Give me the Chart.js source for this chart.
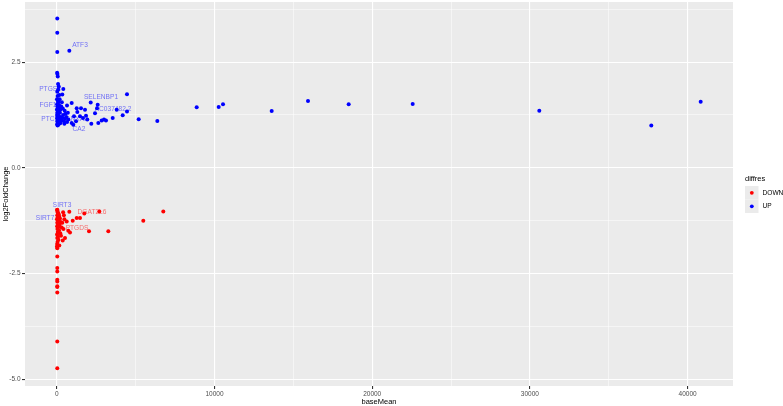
<!DOCTYPE html>
<html>
<head>
<meta charset="utf-8">
<script src="https://cdn.jsdelivr.net/npm/chart.js@4/dist/chart.umd.min.js"></script>
<style>
html,body{margin:0;padding:0;background:#fff;}
#wrap{width:783px;height:406px;}
</style>
</head>
<body>
<div id="wrap"><canvas id="c" width="783" height="406"></canvas></div>
<script>
// ---- data ----
const upX = [30,30,30,793,20,40,60,80,120,412,349,4451,945,647,2150,2594,
  5193,6373,4451,4179,3545,3798,2993,3120,2632,2188,1934,1852,1788,1535,1262,1300,1091,1218,945,729,1046,1471,1661,2550,2422,2847,
  30,50,10,70,100,20,150,40,90,10,60,130,30,200,80,15,110,50,250,25,170,70,300,35,140,60,220,20,100,45,
  350,400,450,500,550,380,280,600,650,700,320,180,240,480,520,160,90,
  8871,10266,10539,13627,15929,18510,22568,30596,37698,40831];
const upY = [3.53,3.19,2.74,2.77,2.25,2.22,2.16,1.98,1.92,1.86,1.73,1.74,1.53,1.47,1.545,1.49,
  1.15,1.105,1.33,1.24,1.18,1.37,1.14,1.12,1.06,1.04,1.14,1.23,1.37,1.41,1.41,1.32,1.22,1.10,1.06,1.14,1.02,1.22,1.18,1.41,1.29,1.12,
  1.80,1.70,1.62,1.58,1.55,1.50,1.48,1.45,1.42,1.38,1.36,1.34,1.30,1.30,1.27,1.25,1.22,1.20,1.20,1.17,1.15,1.13,1.12,1.10,1.08,1.06,1.05,1.03,1.02,1.00,
  1.18,1.25,1.10,1.35,1.28,1.40,1.45,1.20,1.08,1.30,1.55,1.62,1.38,1.04,1.16,1.72,1.85,
  1.43,1.44,1.50,1.34,1.58,1.50,1.51,1.35,1.00,1.56];
const downX = [30,793,2695,6753,5485,3266,2042,1744,1471,1262,1008,628,729,837,520,311,266,374,159,
  20,40,60,80,120,30,150,50,200,10,90,250,30,70,180,20,110,40,140,60,220,15,80,30,100,50,20,10,
  400,450,350,420,480,
  30,30,30,30,30,30,30,30,30,30,30];
const downY = [-0.995,-1.04,-1.035,-1.035,-1.25,-1.50,-1.50,-1.08,-1.19,-1.19,-1.25,-1.27,-1.49,-1.53,-1.66,-1.41,-1.61,-1.72,-1.84,
  -1.00,-1.02,-1.05,-1.08,-1.10,-1.12,-1.15,-1.18,-1.20,-1.22,-1.25,-1.28,-1.30,-1.33,-1.35,-1.38,-1.40,-1.45,-1.48,-1.52,-1.55,-1.58,-1.63,-1.66,-1.70,-1.75,-1.80,-1.86,
  -1.05,-1.12,-1.30,-1.45,-1.22,
  -2.10,-2.37,-2.45,-2.65,-2.69,-2.80,-2.82,-2.95,-4.11,-4.74,-1.90];
const labelNames = ["ATF3","PTGS2","SELENBP1","FGF1","AC037482.2","PTCH1","ANXA2","CA2","SIRT3","SIRT7","DGAT2L6","PTGDS"];
const labelX = [1471,-431,2803,-558,3564,-300,1280,1408,330,-748,2232,1281];
const labelY = [2.91,1.87,1.66,1.47,1.38,1.14,1.16,0.91,-0.88,-1.18,-1.04,-1.42];
const labelGroup = ["UP","UP","UP","UP","UP","UP","UP","UP","UP","UP","DOWN","DOWN"];
const xTicks = [0,5000,10000,15000,20000,25000,30000,35000,40000];
const xMajor = [0,10000,20000,30000,40000];
const yTicks = [-5,-3.75,-2.5,-1.25,0,1.25,2.5,3.75];
const yMajor = [-5,-2.5,0,2.5];
const legendTitle = "diffres";
const legendLabels = ["DOWN","UP"];

const RED = "#FF0000", BLUE = "#0000FF";
const FONT = "'Liberation Sans', Arial, sans-serif";

const bgPlugin = {
  id: 'bg',
  beforeDraw(chart){
    const {ctx, chartArea:a} = chart;
    ctx.save();
    ctx.fillStyle = '#EBEBEB';
    ctx.fillRect(a.left, a.top, a.right-a.left, a.bottom-a.top);
    ctx.restore();
  }
};
const labelPlugin = {
  id: 'lbl',
  beforeDatasetsDraw(chart){
    const {ctx, scales} = chart;
    ctx.save();
    ctx.font = "6.6px " + FONT;
    ctx.textAlign = 'center';
    ctx.textBaseline = 'middle';
    labelNames.forEach((n,i)=>{
      ctx.fillStyle = labelGroup[i]==="UP" ? "rgba(0,0,255,0.55)" : "rgba(255,0,0,0.55)";
      ctx.fillText(n, scales.x.getPixelForValue(labelX[i]), scales.y.getPixelForValue(labelY[i]));
    });
    ctx.restore();
  }
};
const legendPlugin = {
  id: 'lgd',
  afterDraw(chart){
    const ctx = chart.ctx;
    ctx.save();
    ctx.fillStyle = '#000';
    ctx.font = "7.5px " + FONT;
    ctx.textBaseline = 'middle';
    ctx.textAlign = 'left';
    ctx.fillText(legendTitle, 745, 178.5);
    const cols = [RED, BLUE];
    legendLabels.forEach((t,i)=>{
      const y0 = 186 + i*13.5;
      ctx.fillStyle = '#EBEBEB';
      ctx.fillRect(745, y0, 13.5, 13.5);
      ctx.fillStyle = cols[i];
      ctx.beginPath();
      ctx.arc(751.8, y0+6.8, 1.9, 0, Math.PI*2);
      ctx.fill();
      ctx.fillStyle = '#000';
      ctx.font = "6.6px " + FONT;
      ctx.fillText(t, 762.5, y0+6.8);
    });
    ctx.restore();
  }
};

function isMajor(list, v){ return list.some(m=>Math.abs(m-v)<1e-9); }

new Chart(document.getElementById('c'), {
  type: 'scatter',
  data: {
    datasets: [
      { label:'DOWN', data: downX.map((x,i)=>({x, y: downY[i]})), backgroundColor: RED, borderWidth:0, pointRadius:2, pointHoverRadius:2 },
      { label:'UP', data: upX.map((x,i)=>({x, y: upY[i]})), backgroundColor: BLUE, borderWidth:0, pointRadius:2, pointHoverRadius:2 }
    ]
  },
  options: {
    responsive:false, animation:false, devicePixelRatio:1,
    layout:{ padding:{left:0, right:50, top:0, bottom:0} },
    plugins:{ legend:{display:false}, tooltip:{enabled:false} },
    scales:{
      x:{
        type:'linear', min:-2017, max:42880,
        afterBuildTicks(s){ s.ticks = xTicks.map(v=>({value:v})); },
        afterFit(s){ s.height = 20; s.paddingLeft = 0; s.paddingRight = 0; },
        border:{display:false},
        grid:{ color:'#FFFFFF', lineWidth: c => isMajor(xMajor, c.tick.value) ? 1.1 : 0.5,
               tickColor: c => isMajor(xMajor, c.tick.value) ? '#333333' : 'rgba(0,0,0,0)', tickLength:3 },
        ticks:{ autoSkip:false, maxRotation:0, padding:1.5, color:'#4D4D4D', font:{family:FONT, size:6.5},
                callback: v => isMajor(xMajor, v) ? String(v) : '' },
        title:{ display:true, text:'baseMean', color:'#000', font:{family:FONT, size:7.5}, padding:{top:0,bottom:0} }
      },
      y:{
        type:'linear', min:-5.16, max:3.92,
        afterBuildTicks(s){ s.ticks = yTicks.map(v=>({value:v})); },
        afterFit(s){ s.width = 25; s.paddingTop = 0; s.paddingBottom = 0; },
        border:{display:false},
        grid:{ color:'#FFFFFF', lineWidth: c => isMajor(yMajor, c.tick.value) ? 1.1 : 0.5,
               tickColor: c => isMajor(yMajor, c.tick.value) ? '#333333' : 'rgba(0,0,0,0)', tickLength:3 },
        ticks:{ autoSkip:false, padding:1.5, color:'#4D4D4D', font:{family:FONT, size:6.5},
                callback: v => isMajor(yMajor, v) ? v.toFixed(1) : '' },
        title:{ display:true, text:'log2FoldChange', color:'#000', font:{family:FONT, size:7.5}, padding:{top:1,bottom:0} }
      }
    }
  },
  plugins:[bgPlugin, labelPlugin, legendPlugin]
});
</script>
</body>
</html>
